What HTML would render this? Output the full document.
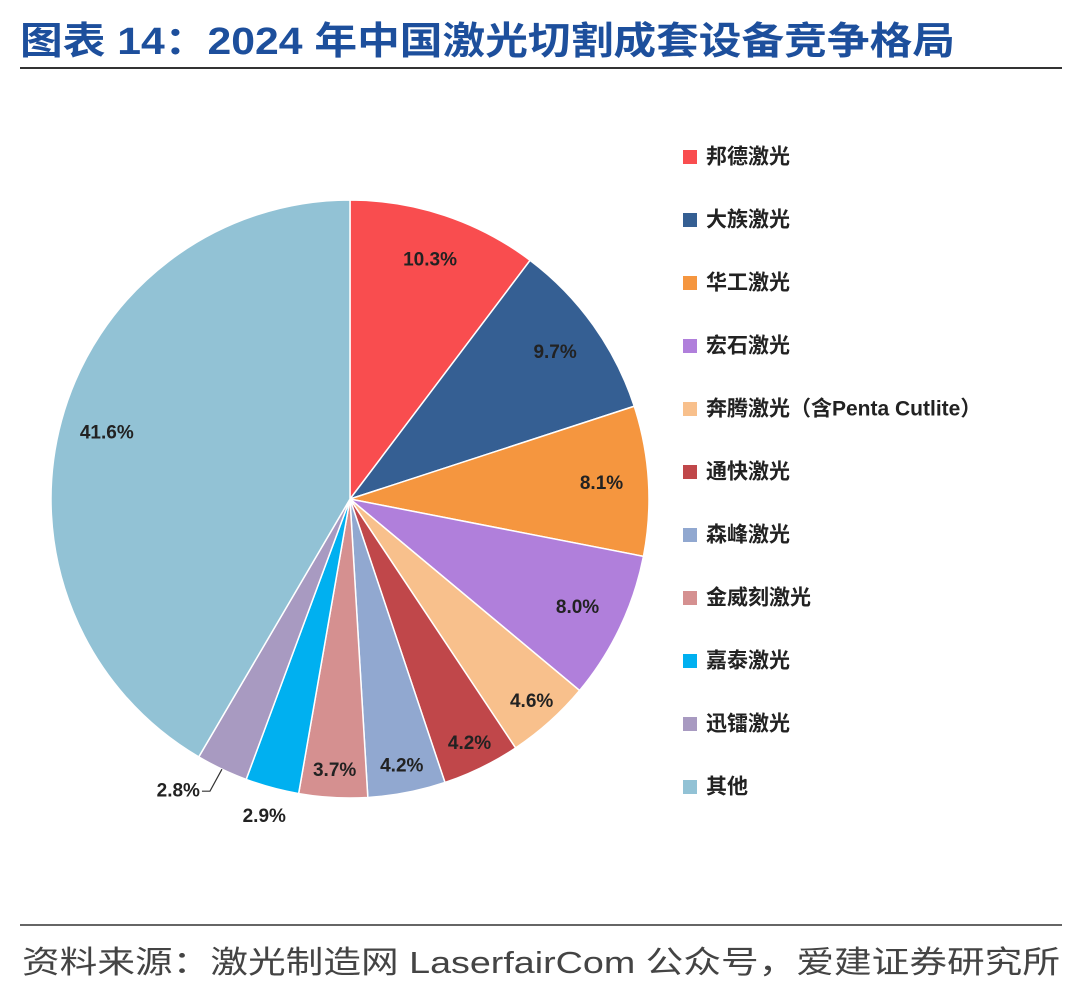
<!DOCTYPE html>
<html><head><meta charset="utf-8">
<style>
body{margin:0;background:#fff;width:1080px;height:985px;overflow:hidden;font-family:"Liberation Sans","Noto Sans CJK SC",sans-serif;}
</style></head>
<body>
<svg width="1080" height="985" xmlns="http://www.w3.org/2000/svg">
<text x="20" y="54" font-size="38" font-weight="bold" fill="#1d4f9c" textLength="935" lengthAdjust="spacingAndGlyphs" font-family="Liberation Sans, Noto Sans CJK SC, sans-serif">图表 14：2024 年中国激光切割成套设备竞争格局</text>
<line x1="20" y1="68" x2="1062" y2="68" stroke="#333" stroke-width="2"/>
<g id="pie"></g>
<g id="legend"></g>
<line x1="20" y1="925" x2="1062" y2="925" stroke="#333" stroke-width="1.5"/>
<text x="22" y="973" font-size="31" fill="#444" textLength="1038" lengthAdjust="spacingAndGlyphs" font-family="Liberation Sans, Noto Sans CJK SC, sans-serif">资料来源：激光制造网 LaserfairCom 公众号，爱建证券研究所</text>
</svg>
<script>
const categories=["邦德激光","大族激光","华工激光","宏石激光","奔腾激光（含Penta Cutlite）","通快激光","森峰激光","金威刻激光","嘉泰激光","迅镭激光","其他"];
const values=[10.3,9.7,8.1,8.0,4.6,4.2,4.2,3.7,2.9,2.8,41.6];
const valueLabels=["10.3%","9.7%","8.1%","8.0%","4.6%","4.2%","4.2%","3.7%","2.9%","2.8%","41.6%"];
const colors=["#f94d4f","#355f93","#f5963f","#b07fdb","#f8c08c","#c0474a","#91a8d0","#d59090","#00b0f0","#a89ac1","#92c2d5"];
const NS="http://www.w3.org/2000/svg";
const cx=350,cy=499,R=299;
const total=values.reduce((a,b)=>a+b,0);
const pie=document.getElementById('pie');
const leg=document.getElementById('legend');
function pt(a,r){return [cx+r*Math.sin(a),cy-r*Math.cos(a)];}
let acc=0;
values.forEach((v,i)=>{
  const a0=acc/total*2*Math.PI;acc+=v;const a1=acc/total*2*Math.PI;
  const p0=pt(a0,R),p1=pt(a1,R);
  const path=document.createElementNS(NS,'path');
  path.setAttribute('d',`M${cx},${cy}L${p0[0]},${p0[1]}A${R},${R} 0 ${a1-a0>Math.PI?1:0} 1 ${p1[0]},${p1[1]}Z`);
  path.setAttribute('fill',colors[i]);path.setAttribute('stroke','#fff');path.setAttribute('stroke-width','1.5');
  
  
  pie.appendChild(path);
  const am=(a0+a1)/2;
  const pct=v/total*100;
  let r=pct<3.5?R+30:(pct<5?272:252);
  let p=pt(am,r);
  const t=document.createElementNS(NS,'text');
  t.textContent=valueLabels[i];
  t.setAttribute('font-size','19');t.setAttribute('font-weight','bold');t.setAttribute('fill','#222');
  t.setAttribute('dominant-baseline','central');
  if(pct<3.5 && Math.sin(am)<-0.4){
    const e=pt(am,R);
    const ln=document.createElementNS(NS,'polyline');
    ln.setAttribute('points',`${e[0]},${e[1]} ${e[0]-12},${e[1]+22} ${e[0]-20},${e[1]+22}`);
    ln.setAttribute('fill','none');ln.setAttribute('stroke','#333');ln.setAttribute('stroke-width','1.2');
    
    
    pie.appendChild(ln);
    t.setAttribute('x',e[0]-22);t.setAttribute('y',e[1]+22);t.setAttribute('text-anchor','end');
  } else {
    t.setAttribute('x',p[0]);t.setAttribute('y',p[1]);t.setAttribute('text-anchor','middle');
  }
  
  
  pie.appendChild(t);
  const y=157+i*63;
  const sq=document.createElementNS(NS,'rect');
  sq.setAttribute('x',683);sq.setAttribute('y',y-7);sq.setAttribute('width',14);sq.setAttribute('height',14);sq.setAttribute('fill',colors[i]);
  
  
  leg.appendChild(sq);
  const lt=document.createElementNS(NS,'text');
  lt.textContent=categories[i];lt.setAttribute('x',706);lt.setAttribute('y',y);lt.setAttribute('dominant-baseline','central');
  lt.setAttribute('font-size','21');lt.setAttribute('font-weight','bold');lt.setAttribute('fill','#222');
  
  
  leg.appendChild(lt);
});
</script>
</body></html>
